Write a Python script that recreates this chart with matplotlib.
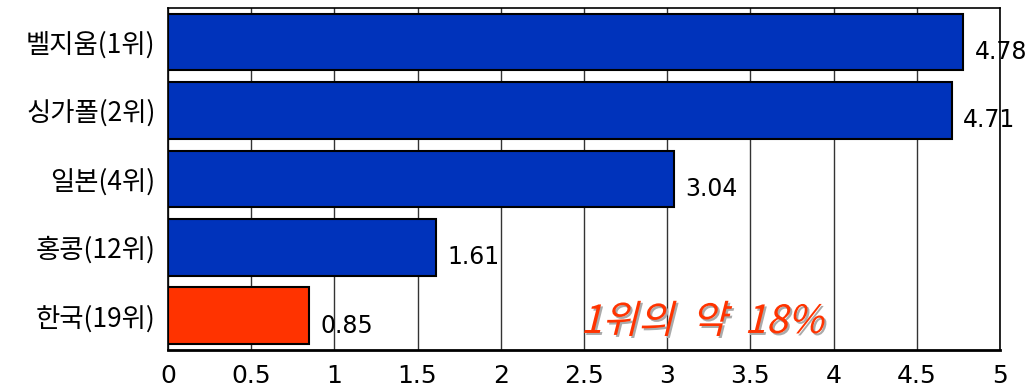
import matplotlib
matplotlib.use("Agg")
import matplotlib.pyplot as plt
from matplotlib.textpath import TextPath
from matplotlib.patches import PathPatch
from matplotlib.font_manager import FontProperties
from matplotlib.transforms import Affine2D, ScaledTranslation

plt.rcParams['font.family'] = ['Noto Sans CJK KR', 'DejaVu Sans']

countries = ['벨지움(1위)', '싱가폴(2위)', '일본(4위)', '홍콩(12위)', '한국(19위)']
values = [4.78, 4.71, 3.04, 1.61, 0.85]
colors = ['#0033bb', '#0033bb', '#0033bb', '#0033bb', '#ff3300']
note = '1위의  약  18%'

fig = plt.figure(figsize=(10.33, 3.92), dpi=100)
ax = fig.add_axes([0.1626, 0.107, 0.8054, 0.873])

ypos = list(range(len(countries)))
ax.barh(ypos, values, height=0.83, color=colors, edgecolor='black', linewidth=1.5, zorder=3)
ax.set_xlim(0, 5)
ax.set_ylim(4.5, -0.5)
ax.set_xticks([0, 0.5, 1, 1.5, 2, 2.5, 3, 3.5, 4, 4.5, 5])
ax.set_xticklabels(['0', '0.5', '1', '1.5', '2', '2.5', '3', '3.5', '4', '4.5', '5'],
                   family='DejaVu Sans', fontsize=18)
ax.set_yticks(ypos)
ax.set_yticklabels(countries, fontsize=19, weight='medium')
ax.tick_params(axis='both', length=0)
ax.tick_params(axis='x', pad=10)
ax.tick_params(axis='y', pad=9)
ax.grid(axis='x', color='#333333', linewidth=1, zorder=0)
for s in ['top', 'right', 'left']:
    ax.spines[s].set_linewidth(1.2)
ax.spines['bottom'].set_linewidth(2)

for y, v in zip(ypos, values):
    ax.annotate(f'{v:.2f}', (v, y), xytext=(8, -7), textcoords='offset points',
                va='center', ha='left', fontsize=17, family='DejaVu Sans', zorder=4)

# skewed "italic" note with shadow
fp = FontProperties(family='Noto Sans CJK KR')
tp = TextPath((0, 0), note, size=28, prop=fp)
base = Affine2D().skew_deg(14, 0).scale(1 / 72) + fig.dpi_scale_trans
for dx, col, z in [(2, '#aaaaaa', 4), (0, '#ff3300', 5)]:
    tr = base + Affine2D().translate(dx, -dx) + ScaledTranslation(2.48, 4.25, ax.transData)
    ax.add_patch(PathPatch(tp, transform=tr, facecolor=col, edgecolor='none', zorder=z, clip_on=False))

fig.savefig('out.png', dpi=100)
